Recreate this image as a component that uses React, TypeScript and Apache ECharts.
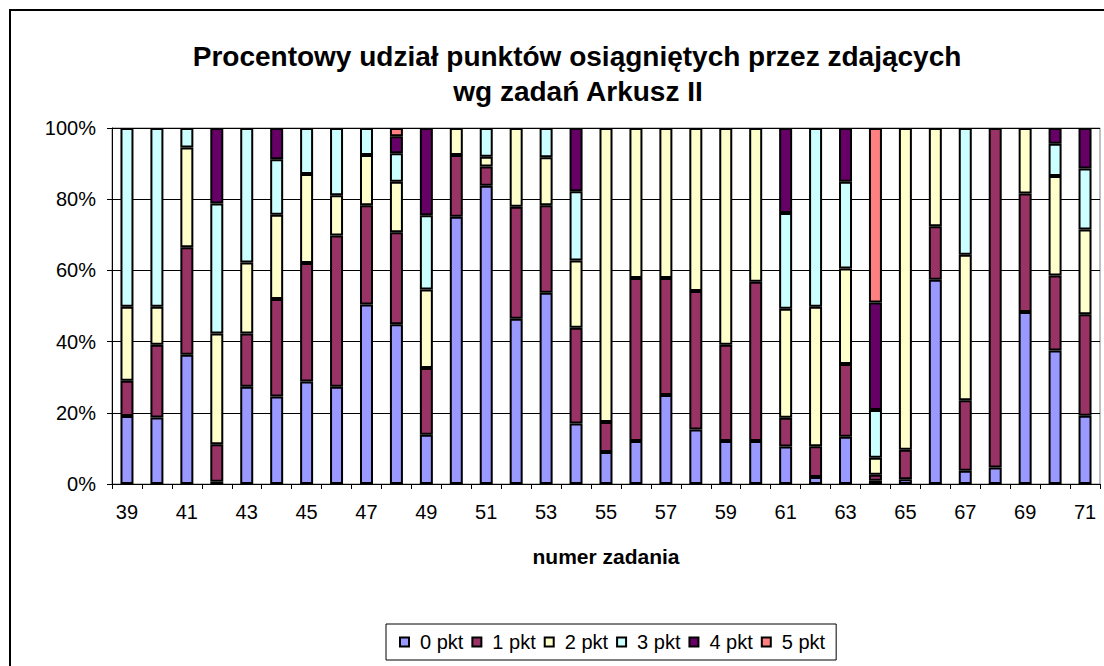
import React, { useEffect, useRef } from "react";
import * as echarts from "echarts";

const categories = [
  "39", "40", "41", "42", "43", "44", "45", "46", "47", "48", "49",
  "50", "51", "52", "53", "54", "55", "56", "57", "58", "59", "60",
  "61", "62", "63", "64", "65", "66", "67", "68", "69", "70", "71",
];

const seriesNames = ["0 pkt", "1 pkt", "2 pkt", "3 pkt", "4 pkt", "5 pkt"];
const seriesColors = ["#9999FF", "#993366", "#FFFFCC", "#CCFFFF", "#660066", "#FF8080"];

const pkt0 = [19.1, 18.7, 36.3, 0.6, 27.3, 24.6, 28.8, 27.3, 50.4, 44.9, 13.8, 75.1, 83.8, 46.4, 53.7, 17.0, 9.0, 12.1, 25.0, 15.3, 12.1, 12.1, 10.5, 2.0, 13.3, 0.9, 1.3, 57.4, 3.7, 4.6, 48.3, 37.5, 19.2];
const pkt1 = [9.9, 20.4, 30.2, 10.6, 15.0, 27.4, 33.3, 42.5, 27.9, 25.8, 18.8, 17.3, 5.4, 31.5, 24.6, 26.9, 8.4, 45.8, 32.9, 38.9, 27.0, 44.7, 8.1, 8.6, 20.4, 1.7, 8.3, 15.0, 19.8, 95.4, 33.3, 21.1, 28.5];
const pkt2 = [20.8, 10.7, 28.0, 31.1, 19.9, 23.6, 25.0, 11.3, 14.1, 14.2, 22.0, 7.6, 2.7, 22.1, 13.5, 18.9, 82.6, 42.1, 42.1, 45.8, 60.9, 43.2, 30.6, 39.2, 26.8, 4.8, 90.4, 27.6, 40.9, 0, 18.4, 27.9, 23.8];
const pkt3 = [50.2, 50.2, 5.5, 36.5, 37.8, 15.6, 12.9, 18.9, 7.6, 8.0, 20.9, 0, 8.1, 0, 8.2, 19.4, 0, 0, 0, 0, 0, 0, 26.9, 50.2, 24.4, 13.4, 0, 0, 35.6, 0, 0, 9.1, 17.1];
const pkt4 = [0, 0, 0, 21.2, 0, 8.8, 0, 0, 0, 4.8, 24.5, 0, 0, 0, 0, 17.8, 0, 0, 0, 0, 0, 0, 23.9, 0, 15.1, 30.2, 0, 0, 0, 0, 0, 4.4, 11.4];
const pkt5 = [0, 0, 0, 0, 0, 0, 0, 0, 0, 2.3, 0, 0, 0, 0, 0, 0, 0, 0, 0, 0, 0, 0, 0, 0, 0, 49.0, 0, 0, 0, 0, 0, 0, 0];

const seriesData = [pkt0, pkt1, pkt2, pkt3, pkt4, pkt5];

const titleLines = ["Procentowy udział punktów osiągniętych przez zdających", "wg zadań Arkusz II"];
const xAxisName = "numer zadania";

export default function App() {
  const ref = useRef<HTMLDivElement>(null);

  useEffect(() => {
    if (!ref.current) return;
    const chart = echarts.init(ref.current, undefined, { renderer: "svg" });
    const font = "Arial, 'Liberation Sans', sans-serif";
    chart.setOption({
      animation: false,
      backgroundColor: "#fff",
      textStyle: { fontFamily: font },
      graphic: [
        {
          type: "rect",
          shape: { x: 10, y: 10, width: 1200, height: 800 },
          style: { fill: "none", stroke: "#000", lineWidth: 2 },
          z: 100,
        },
        {
          type: "text",
          x: 577,
          y: 56,
          style: {
            text: titleLines[0],
            font: "bold 28px Arial, 'Liberation Sans', sans-serif",
            fill: "#000",
            align: "center",
            verticalAlign: "middle",
          },
        },
        {
          type: "text",
          x: 578,
          y: 91,
          style: {
            text: titleLines[1],
            font: "bold 28px Arial, 'Liberation Sans', sans-serif",
            fill: "#000",
            align: "center",
            verticalAlign: "middle",
          },
        },
      ],
      legend: {
        left: 386,
        top: 624,
        orient: "horizontal",
        padding: [8, 11, 8, 13],
        itemGap: 8,
        itemWidth: 9,
        itemHeight: 9,
        icon: "rect",
        borderColor: "#000",
        borderWidth: 1,
        textStyle: { fontSize: 20, color: "#000", fontFamily: font, padding: [0, 0, 0, 6] },
        data: seriesNames,
      },
      grid: {
        left: 112,
        right: 4,
        top: 128,
        bottom: 182,
        show: true,
        borderColor: "#808080",
        borderWidth: 1,
      },
      xAxis: {
        type: "category",
        data: categories,
        name: xAxisName,
        nameLocation: "middle",
        nameGap: 62,
        nameTextStyle: { fontSize: 21, fontWeight: "bold", color: "#000", fontFamily: font },
        axisLine: { lineStyle: { color: "#000", width: 1 } },
        axisTick: { show: true, interval: 0, length: 5, alignWithLabel: false, lineStyle: { color: "#000" } },
        axisLabel: { interval: 1, fontSize: 20, color: "#000", margin: 18, fontFamily: font },
        splitLine: { show: false },
      },
      yAxis: {
        type: "value",
        min: 0,
        max: 100,
        interval: 20,
        axisLine: { show: true, lineStyle: { color: "#000", width: 1 } },
        axisTick: { show: true, length: 5, lineStyle: { color: "#000" } },
        axisLabel: { formatter: "{value}%", fontSize: 20, color: "#000", margin: 16, fontFamily: font },
        splitLine: { show: true, lineStyle: { color: "#000", width: 1 } },
      },
      series: seriesNames.map((name, i) => ({
        name,
        type: "bar",
        stack: "total",
        barWidth: 13,
        data: seriesData[i].map((v) => (v === 0 ? null : v)),
        itemStyle: { color: seriesColors[i], borderColor: "#000", borderWidth: 2 },
      })),
    });
    return () => chart.dispose();
  }, []);

  return (
    <div
      ref={ref}
      style={{ position: "fixed", left: 0, top: 0, width: 1104, height: 666 }}
    />
  );
}
